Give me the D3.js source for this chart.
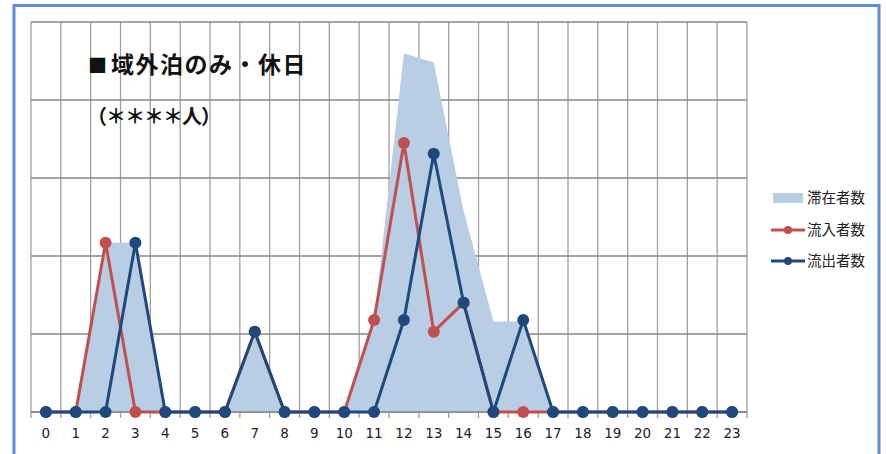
<!DOCTYPE html>
<html><head><meta charset="utf-8">
<script src="https://cdn.jsdelivr.net/npm/d3@7/dist/d3.min.js"></script>
<style>
html,body{margin:0;padding:0;background:#fff;}
svg{display:block;}
</style></head>
<body>
<svg id="chart" width="886" height="454"></svg>
<script>
const hours = d3.range(0, 24).map(String);
const stayValues = [0,0,21.7,21.7,0,0,0,10.3,0,0,0,11.8,46.0,44.8,25.8,11.6,11.6,0,0,0,0,0,0,0];
const inflowValues = [0,0,21.7,0,0,0,0,10.3,0,0,0,11.8,34.5,10.3,14.0,0,0,0,0,0,0,0,0,0];
const outflowValues = [0,0,0,21.7,0,0,0,10.3,0,0,0,0,11.8,33.1,14.0,0,11.8,0,0,0,0,0,0,0];
const yTicks = [0,10,20,30,40,50];
const seriesNames = ["滞在者数","流入者数","流出者数"];
const titleLines = ["■域外泊のみ・休日","（＊＊＊＊人）"];

const colStay = "#b9cde5", colIn = "#c0504d", colOut = "#1f497d";
const svg = d3.select("#chart");

// outer frame
svg.append("rect").attr("x",14).attr("y",5.5).attr("width",865).attr("height",470)
  .attr("fill","none").attr("stroke","#5b8ed6").attr("stroke-width",3);

const L=31, R=747, T=22, B=412;
const x = d3.scaleBand().domain(hours).range([L,R]).padding(0);
const cx = h => x(h) + x.bandwidth()/2;
const y = d3.scaleLinear().domain([0,50]).range([B,T]);

// vertical gridlines at category boundaries
const bounds = hours.map(h=>x(h)).concat([R]);
svg.append("g").selectAll("line").data(bounds).join("line")
  .attr("x1",d=>d).attr("x2",d=>d).attr("y1",T).attr("y2",B+6)
  .attr("stroke","#a0a0a0").attr("stroke-width",1.3);
// horizontal gridlines
svg.append("g").selectAll("line").data(yTicks).join("line")
  .attr("x1",L).attr("x2",R).attr("y1",d=>y(d)).attr("y2",d=>y(d))
  .attr("stroke","#878787").attr("stroke-width",1.3);

// area
const area = d3.area().x((d,i)=>cx(hours[i])).y0(y(0)).y1(d=>y(d));
svg.append("path").datum(stayValues).attr("d",area).attr("fill",colStay);

// baseline axis
svg.append("line").attr("x1",L).attr("x2",R).attr("y1",B).attr("y2",B)
  .attr("stroke","#878787").attr("stroke-width",1.3);

const line = d3.line().x((d,i)=>cx(hours[i])).y(d=>y(d));
function drawSeries(vals,col){
  svg.append("path").datum(vals).attr("d",line).attr("fill","none")
    .attr("stroke",col).attr("stroke-width",3).attr("stroke-linejoin","round");
  svg.append("g").selectAll("circle").data(vals).join("circle")
    .attr("cx",(d,i)=>cx(hours[i])).attr("cy",d=>y(d)).attr("r",6).attr("fill",col);
}
drawSeries(inflowValues,colIn);
drawSeries(outflowValues,colOut);

// x axis labels
const xAxis = d3.axisBottom(x).tickSize(0).tickPadding(0);
const gx = svg.append("g").attr("transform",`translate(0,${B+16})`).call(xAxis);
gx.select(".domain").remove();
gx.selectAll("text").attr("font-family","DejaVu Sans, Verdana, sans-serif")
  .attr("font-size","13.5px").attr("fill","#222").attr("dy","0.71em");

// title
const t1 = svg.append("text").attr("x",88).attr("y",73)
  .attr("font-family","Noto Sans CJK JP").attr("font-weight","bold").attr("font-size","23px").attr("fill","#111");
t1.append("tspan").attr("font-size","19px").text(titleLines[0].slice(0,1));
t1.append("tspan").attr("dx",4).attr("letter-spacing","1.5px").text(titleLines[0].slice(1));
svg.append("text").attr("x",87).attr("y",124).text(titleLines[1])
  .attr("letter-spacing","-1px")
  .attr("font-family","Noto Sans CJK JP").attr("font-weight","bold").attr("font-size","20px").attr("fill","#111");

// legend
const lg = svg.append("g").attr("font-family","Noto Sans CJK JP").attr("font-size","14.5px").attr("fill","#222");
const ly = [198,230,261];
lg.append("rect").attr("x",773).attr("y",ly[0]-5).attr("width",30).attr("height",10).attr("fill",colStay);
[[colIn,ly[1]],[colOut,ly[2]]].forEach(([c,yy])=>{
  lg.append("line").attr("x1",771).attr("x2",805).attr("y1",yy).attr("y2",yy).attr("stroke",c).attr("stroke-width",3);
  lg.append("circle").attr("cx",788).attr("cy",yy).attr("r",4).attr("fill",c);
});
seriesNames.forEach((n,i)=>{
  lg.append("text").attr("x",807).attr("y",ly[i]).attr("dy","0.36em").text(n);
});
</script>
</body></html>
